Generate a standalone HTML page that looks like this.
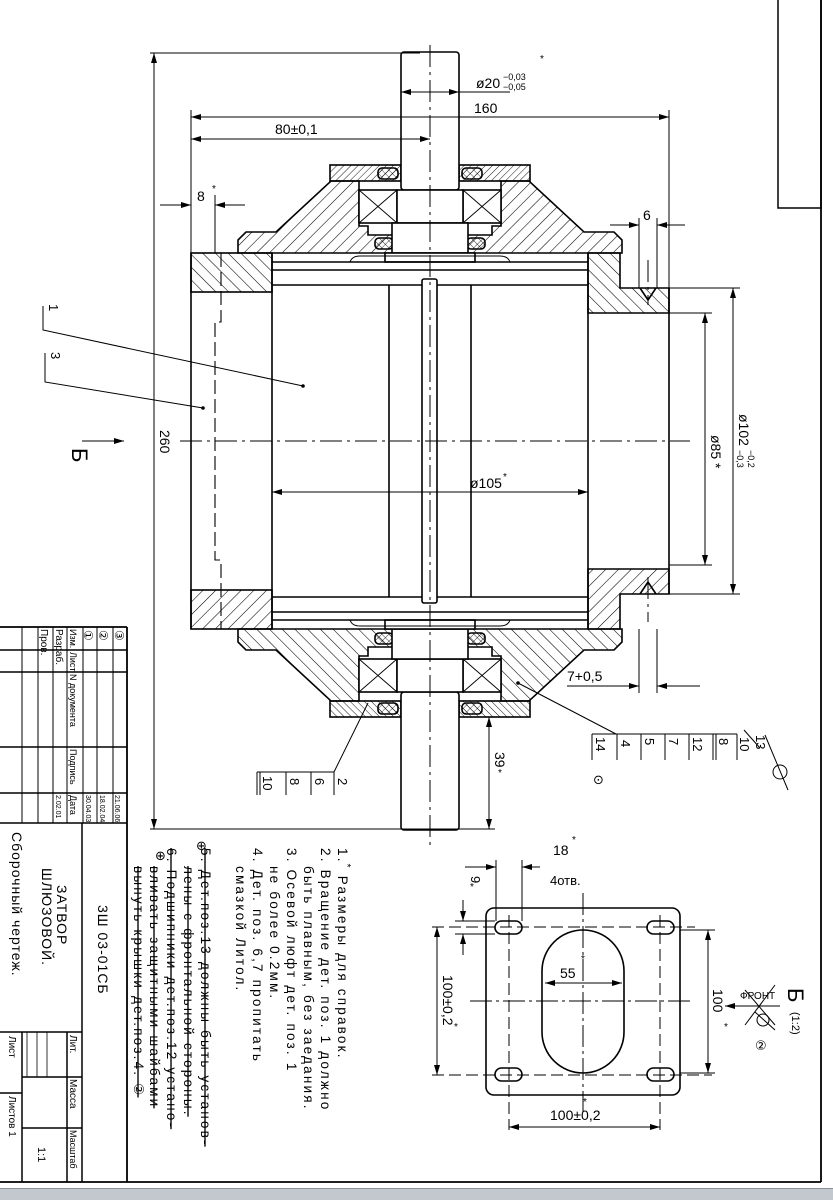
<!DOCTYPE html>
<html><head><meta charset="utf-8"><style>
html,body{margin:0;padding:0;background:#fff;}
svg{display:block;font-family:"Liberation Sans","DejaVu Sans",sans-serif;}
</style></head><body>
<svg width="833" height="1200" viewBox="0 0 833 1200" xmlns="http://www.w3.org/2000/svg">
<defs>
<pattern id="hb" width="9" height="9" patternUnits="userSpaceOnUse" patternTransform="rotate(-45)"><line x1="0" y1="0" x2="0" y2="9" stroke="#000" stroke-width="1.1"/></pattern>
<pattern id="hf" width="9" height="9" patternUnits="userSpaceOnUse" patternTransform="rotate(45)"><line x1="0" y1="0" x2="0" y2="9" stroke="#000" stroke-width="1.1"/></pattern>
<pattern id="hs" width="5" height="5" patternUnits="userSpaceOnUse" patternTransform="rotate(45)"><line x1="0" y1="0" x2="0" y2="5" stroke="#000" stroke-width="0.9"/></pattern>
<pattern id="hx" width="5" height="5" patternUnits="userSpaceOnUse" patternTransform="rotate(45)"><path d="M0 0V5M0 0H5" stroke="#000" stroke-width="0.8"/></pattern>
<marker id="a" viewBox="0 0 10 6" refX="10" refY="3" markerWidth="11" markerHeight="6" orient="auto-start-reverse" markerUnits="userSpaceOnUse"><path d="M0 0L10 3L0 6z" fill="#000"/></marker>
<g id="half" stroke="#000" stroke-width="1.6">
  <rect x="191" y="253" width="81" height="39" fill="url(#hb)"/>
  <path d="M588 253H620V288H669V313H588Z" fill="url(#hb)"/>
  <path d="M640 288L648 300L656 288" fill="none"/>
  <path d="M238 253V240L246 232H276L331 181H359V226H368V235H393V253Z" fill="url(#hf)"/>
  <path d="M622 253V240L614 232H584L529 181H501V226H492V235H467V253Z" fill="url(#hf)"/>
  <rect x="330" y="165" width="71" height="16" fill="url(#hs)"/>
  <rect x="459" y="165" width="71" height="16" fill="url(#hs)"/>
  <rect x="378" y="168" width="20" height="11" rx="4" fill="url(#hx)"/>
  <rect x="462" y="168" width="20" height="11" rx="4" fill="url(#hx)"/>
  <rect x="375" y="238" width="18" height="11" rx="4" fill="url(#hx)"/>
  <rect x="467" y="238" width="18" height="11" rx="4" fill="url(#hx)"/>
  <rect x="359" y="190" width="38" height="33" fill="#fff"/>
  <path d="M359 190L397 223M397 190L359 223" fill="none" stroke-width="0.9"/>
  <rect x="463" y="190" width="38" height="33" fill="#fff"/>
  <path d="M463 190L501 223M501 190L463 223" fill="none" stroke-width="0.9"/>
  <rect x="401" y="52" width="58" height="138" rx="3" fill="#fff"/>
  <rect x="397" y="190" width="66" height="33" fill="#fff"/>
  <rect x="392" y="223" width="76" height="30" fill="#fff"/>
  <rect x="385" y="253" width="90" height="9" fill="#fff"/>
  <path d="M350 262Q352 256 360 256H500Q508 256 510 262" fill="none" stroke-width="1"/>
  <line x1="272" y1="262" x2="588" y2="262"/>
  <line x1="272" y1="270" x2="588" y2="270"/>
  <line x1="272" y1="285" x2="588" y2="285"/>
</g>
</defs>
<rect width="833" height="1200" fill="#fff"/>
<use href="#half"/>
<use href="#half" transform="matrix(1,0,0,-1,0,882)"/>
<g stroke="#000" stroke-width="1.6" fill="none">
  <line x1="191" y1="253" x2="191" y2="629"/>
  <line x1="272" y1="253" x2="272" y2="629"/>
  <line x1="588" y1="253" x2="588" y2="629"/>
  <line x1="669" y1="288" x2="669" y2="594"/>
  <line x1="389" y1="285" x2="389" y2="597"/>
  <line x1="471" y1="285" x2="471" y2="597"/>
  <rect x="422" y="279" width="15" height="324" rx="2" fill="#fff"/>
  <path d="M221 253V322H215V560H221V629" stroke-dasharray="14 5" stroke-width="1.1"/>
</g>
<g stroke="#000" stroke-width="1" fill="none" stroke-dasharray="22 5 3 5">
  <line x1="430" y1="45" x2="430" y2="845"/>
  <line x1="180" y1="441" x2="690" y2="441"/>
  <line x1="648" y1="260" x2="648" y2="305"/>
  <line x1="648" y1="577" x2="648" y2="622"/>
</g>
<g stroke="#000" stroke-width="1" fill="none">
  <line x1="154" y1="53" x2="154" y2="829" marker-start="url(#a)" marker-end="url(#a)"/>
  <line x1="150" y1="53" x2="420" y2="53"/>
  <line x1="150" y1="829" x2="495" y2="829"/>
  <line x1="401" y1="92" x2="459" y2="92" marker-start="url(#a)" marker-end="url(#a)"/>
  <line x1="459" y1="92" x2="510" y2="92"/>
  <line x1="191" y1="117" x2="669" y2="117" marker-start="url(#a)" marker-end="url(#a)"/>
  <line x1="191" y1="110" x2="191" y2="253"/>
  <line x1="669" y1="110" x2="669" y2="288"/>
  <line x1="191" y1="139" x2="430" y2="139" marker-start="url(#a)" marker-end="url(#a)"/>
  <line x1="160" y1="205" x2="191" y2="205" marker-end="url(#a)"/>
  <line x1="245" y1="205" x2="215" y2="205" marker-end="url(#a)"/>
  <line x1="215" y1="195" x2="215" y2="253"/>
  <line x1="610" y1="225" x2="639" y2="225" marker-end="url(#a)"/>
  <line x1="685" y1="225" x2="657" y2="225" marker-end="url(#a)"/>
  <line x1="639" y1="218" x2="639" y2="288"/>
  <line x1="657" y1="218" x2="657" y2="288"/>
  <line x1="272" y1="492" x2="588" y2="492" marker-start="url(#a)" marker-end="url(#a)"/>
  <line x1="705" y1="313" x2="705" y2="565" marker-start="url(#a)" marker-end="url(#a)"/>
  <line x1="669" y1="313" x2="712" y2="313"/>
  <line x1="669" y1="565" x2="712" y2="565"/>
  <line x1="733" y1="288" x2="733" y2="594" marker-start="url(#a)" marker-end="url(#a)"/>
  <line x1="669" y1="288" x2="740" y2="288"/>
  <line x1="669" y1="594" x2="740" y2="594"/>
  <line x1="489" y1="717" x2="489" y2="829" marker-start="url(#a)" marker-end="url(#a)"/>
  <line x1="468" y1="717" x2="495" y2="717"/>
  <line x1="567" y1="686" x2="639" y2="686" marker-end="url(#a)"/>
  <line x1="700" y1="686" x2="657" y2="686" marker-end="url(#a)"/>
  <line x1="639" y1="629" x2="639" y2="693"/>
  <line x1="657" y1="629" x2="657" y2="693"/>
  <polyline points="43,306 43,330 303,386"/>
  <polyline points="45,353 45,382 203,408"/>
  <line x1="82" y1="441" x2="124" y2="441" marker-end="url(#a)"/>
  <line x1="368" y1="703" x2="334" y2="772"/>
  <line x1="257" y1="772" x2="334" y2="772"/>
  <line x1="257" y1="772" x2="257" y2="795"/><line x1="260" y1="772" x2="260" y2="795"/>
  <line x1="286" y1="772" x2="286" y2="795"/><line x1="311" y1="772" x2="311" y2="795"/><line x1="334" y1="772" x2="334" y2="795"/>
  <line x1="518" y1="683" x2="616" y2="734"/>
  <line x1="592" y1="734" x2="737" y2="734"/>
  <line x1="592" y1="734" x2="592" y2="760"/><line x1="617" y1="734" x2="617" y2="760"/>
  <line x1="641" y1="734" x2="641" y2="760"/><line x1="665" y1="734" x2="665" y2="760"/>
  <line x1="689" y1="734" x2="689" y2="760"/><line x1="713" y1="734" x2="713" y2="760"/>
  <line x1="716" y1="734" x2="716" y2="760"/><line x1="737" y1="734" x2="737" y2="760"/>
  <line x1="744" y1="730" x2="760" y2="748"/><line x1="765" y1="735" x2="788" y2="790"/>
  <circle cx="780" cy="772" r="7"/>
</g>
<g fill="#000">
  <circle cx="303" cy="386" r="1.8"/><circle cx="203" cy="408" r="1.8"/><circle cx="518" cy="683" r="1.8"/>
</g>
<g font-size="14" fill="#000">
  <text x="476" y="88">ø20</text>
  <text x="503" y="80" font-size="9">−0,03</text>
  <text x="503" y="90" font-size="9">−0,05</text>
  <text x="540" y="62" font-size="10">*</text>
  <text x="474" y="113">160</text>
  <text x="275" y="134">80±0,1</text>
  <text x="197" y="201">8</text><text x="212" y="192" font-size="10">*</text>
  <text x="643" y="220">6</text>
  <text x="470" y="488">ø105</text><text x="503" y="480" font-size="10">*</text>
  <text x="567" y="681">7+0,5</text>
  <text transform="translate(160,430) rotate(90)">260</text>
  <text transform="translate(711,435) rotate(90)">ø85 *</text>
  <text transform="translate(739,414) rotate(90)">ø102</text>
  <text transform="translate(748,450) rotate(90)" font-size="9">−0,2</text>
  <text transform="translate(737,450) rotate(90)" font-size="9">−0,3</text>
  <text transform="translate(495,752) rotate(90)">39</text><text x="498" y="776" font-size="10">*</text>
  <text transform="translate(49,304) rotate(90)" font-size="13">1</text>
  <text transform="translate(51,352) rotate(90)" font-size="13">3</text>
  <text transform="translate(72,448) rotate(90)" font-size="22">Б</text>
  <text transform="translate(263,776) rotate(90)" font-size="13">10</text>
  <text transform="translate(290,778) rotate(90)" font-size="13">8</text>
  <text transform="translate(315,778) rotate(90)" font-size="13">6</text>
  <text transform="translate(338,778) rotate(90)" font-size="13">2</text>
  <text transform="translate(596,737) rotate(90)" font-size="13">14</text>
  <text transform="translate(621,740) rotate(90)" font-size="13">4</text>
  <text transform="translate(645,738) rotate(90)" font-size="13">5</text>
  <text transform="translate(669,738) rotate(90)" font-size="13">7</text>
  <text transform="translate(693,737) rotate(90)" font-size="13">12</text>
  <text transform="translate(719,738) rotate(90)" font-size="13">8</text>
  <text transform="translate(740,737) rotate(90)" font-size="13">10</text>
  <text transform="translate(756,735) rotate(90)" font-size="13">13</text>
  <text x="593" y="784" font-size="13">⊙</text>
</g>
<g stroke="#000" stroke-width="1.6" fill="none">
  <rect x="486" y="908" width="194" height="187" rx="8"/>
  <rect x="495" y="921" width="27" height="13" rx="6.5"/>
  <rect x="647" y="921" width="27" height="13" rx="6.5"/>
  <rect x="495" y="1068" width="27" height="13" rx="6.5"/>
  <rect x="647" y="1068" width="27" height="13" rx="6.5"/>
  <rect x="542" y="930" width="82" height="143" rx="41"/>
</g>
<g stroke="#000" stroke-width="1" fill="none">
  <g stroke-dasharray="12 5">
    <line x1="509" y1="915" x2="509" y2="1130"/><line x1="660" y1="915" x2="660" y2="1130"/>
    <line x1="432" y1="927" x2="695" y2="927"/><line x1="432" y1="1075" x2="712" y2="1075"/>
  </g>
  <line x1="470" y1="1001" x2="693" y2="1001" stroke-dasharray="22 4 3 4"/>
  <line x1="583" y1="893" x2="583" y2="1112" stroke-dasharray="22 4 3 4"/>
  <line x1="437" y1="927" x2="437" y2="1075" marker-start="url(#a)" marker-end="url(#a)"/>
  <line x1="708" y1="930" x2="708" y2="1073" marker-start="url(#a)" marker-end="url(#a)"/>
  <line x1="680" y1="930" x2="715" y2="930"/><line x1="680" y1="1073" x2="715" y2="1073"/>
  <line x1="509" y1="1127" x2="660" y2="1127" marker-start="url(#a)" marker-end="url(#a)"/>
  <line x1="545" y1="983" x2="622" y2="983" marker-start="url(#a)" marker-end="url(#a)"/>
  <line x1="465" y1="867" x2="496" y2="867" marker-end="url(#a)"/>
  <line x1="540" y1="867" x2="522" y2="867" marker-end="url(#a)"/>
  <line x1="496" y1="860" x2="496" y2="921"/><line x1="522" y1="860" x2="522" y2="921"/>
  <line x1="463" y1="900" x2="463" y2="921" marker-end="url(#a)"/>
  <line x1="463" y1="955" x2="463" y2="934" marker-end="url(#a)"/>
  <line x1="455" y1="921" x2="495" y2="921"/><line x1="455" y1="934" x2="495" y2="934"/>
  <line x1="780" y1="1006" x2="725" y2="1006" marker-end="url(#a)"/>
  <line x1="745" y1="990" x2="775" y2="1025"/><line x1="775" y1="985" x2="745" y2="1025"/>
  <circle cx="763" cy="1020" r="6"/><line x1="755" y1="1012" x2="775" y2="1030"/>
</g>
<g font-size="14" fill="#000">
  <text x="553" y="855">18</text><text x="572" y="843" font-size="10">*</text>
  <text x="550" y="885" font-size="13">4отв.</text>
  <text transform="translate(471,876) rotate(90)" font-size="13">9</text><text x="470" y="890" font-size="10">*</text>
  <text x="560" y="978">55</text><text x="581" y="962" font-size="10">*</text>
  <text transform="translate(443,975) rotate(90)">100±0,2</text><text x="454" y="1030" font-size="10">*</text>
  <text x="550" y="1120">100±0,2</text><text x="583" y="1105" font-size="10">*</text>
  <text transform="translate(713,989) rotate(90)">100</text><text x="724" y="1030" font-size="10">*</text>
  <text x="740" y="999" font-size="10">ФРОНТ</text>
  <text transform="translate(788,988) rotate(90)" font-size="22">Б</text>
  <text transform="translate(792,1012) rotate(90)" font-size="11">(1:2)</text>
  <text x="755" y="1050" font-size="13">②</text>
</g>
<g font-size="13.5" fill="#000" letter-spacing="2.2">
  <text transform="translate(338,848) rotate(90)">1.<tspan dy="-6" font-size="10">*</tspan><tspan dy="6"> Размеры для справок.</tspan></text>
  <text transform="translate(321,848) rotate(90)">2. Вращение дет. поз. 1 должно</text>
  <text transform="translate(304,866) rotate(90)">быть плавным, без заедания.</text>
  <text transform="translate(287,848) rotate(90)">3. Осевой люфт дет. поз. 1</text>
  <text transform="translate(270,866) rotate(90)">не более 0.2мм.</text>
  <text transform="translate(253,848) rotate(90)">4. Дет. поз. 6,7 пропитать</text>
  <text transform="translate(236,866) rotate(90)">смазкой Литол.</text>
  <g text-decoration="line-through">
  <text transform="translate(201,848) rotate(90)">5. Дет.поз.13 должны быть установ-</text>
  <text transform="translate(184,866) rotate(90)">лены с фронтальной стороны.</text>
  <text transform="translate(167,848) rotate(90)">6. Подшипники дет.поз.12 устано-</text>
  <text transform="translate(150,866) rotate(90)">вливать защитными шайбами</text>
  <text transform="translate(134,866) rotate(90)">вынуть крышки дет.поз.4. ②</text>
  </g>
  <text x="196" y="850" font-size="13">⊕</text>
  <text x="155" y="860" font-size="13">⊕</text>
</g>
<g stroke="#000" fill="none">
  <line x1="821" y1="0" x2="821" y2="1182" stroke-width="1.8"/>
  <line x1="0" y1="1182" x2="821" y2="1182" stroke-width="1.8"/>
  <line x1="127" y1="627" x2="127" y2="1182" stroke-width="1.8"/>
  <rect x="778" y="-2" width="43" height="210" stroke-width="1.5"/>
  <line x1="0" y1="627" x2="127" y2="627" stroke-width="1.8"/>
  <g stroke-width="1">
    <line x1="113" y1="627" x2="113" y2="823"/><line x1="97" y1="627" x2="97" y2="823"/>
    <line x1="83" y1="627" x2="83" y2="823"/><line x1="67" y1="627" x2="67" y2="823"/>
    <line x1="53" y1="627" x2="53" y2="823"/><line x1="38" y1="627" x2="38" y2="823"/>
    <line x1="22" y1="627" x2="22" y2="823"/>
  </g>
  <g stroke-width="1.5">
    <line x1="0" y1="650" x2="127" y2="650"/><line x1="0" y1="672" x2="127" y2="672"/>
    <line x1="0" y1="747" x2="127" y2="747"/><line x1="0" y1="793" x2="127" y2="793"/>
    <line x1="0" y1="823" x2="127" y2="823"/>
    <line x1="82" y1="823" x2="82" y2="1182"/>
    <line x1="0" y1="1032" x2="82" y2="1032"/>
    <line x1="67" y1="1032" x2="67" y2="1182"/><line x1="22" y1="1032" x2="22" y2="1182"/>
    <line x1="22" y1="1077" x2="82" y2="1077"/><line x1="22" y1="1128" x2="82" y2="1128"/>
    <line x1="0" y1="1093" x2="22" y2="1093"/>
  </g>
  <g stroke-width="0.8"><line x1="27" y1="1032" x2="27" y2="1077"/><line x1="37" y1="1032" x2="37" y2="1077"/><line x1="47" y1="1032" x2="47" y2="1077"/></g>
</g>
<g fill="#000" font-size="9">
  <text transform="translate(115,630) rotate(90)" font-size="12">③</text>
  <text transform="translate(99,630) rotate(90)" font-size="12">②</text>
  <text transform="translate(84,630) rotate(90)" font-size="12">①</text>
  <text transform="translate(70,629) rotate(90)">Изм.</text>
  <text transform="translate(70,652) rotate(90)">Лист</text>
  <text transform="translate(70,674) rotate(90)">N документа</text>
  <text transform="translate(70,749) rotate(90)">Подпись</text>
  <text transform="translate(70,795) rotate(90)">Дата</text>
  <text transform="translate(56,629) rotate(90)" font-size="10">Разраб.</text>
  <text transform="translate(41,629) rotate(90)" font-size="10">Пров.</text>
  <text transform="translate(115,795) rotate(90)" font-size="7">21.06.06</text>
  <text transform="translate(100,795) rotate(90)" font-size="7">18.02.04</text>
  <text transform="translate(86,795) rotate(90)" font-size="7">30.04.03</text>
  <text transform="translate(56,795) rotate(90)" font-size="7">2.02.01</text>
  <text transform="translate(98,905) rotate(90)" font-size="14" letter-spacing="1">3Ш 03-01СБ</text>
  <text transform="translate(57,885) rotate(90)" font-size="14" letter-spacing="1">ЗАТВОР</text>
  <text transform="translate(42,868) rotate(90)" font-size="14" letter-spacing="1">ШЛЮЗОВОЙ.</text>
  <text transform="translate(12,832) rotate(90)" font-size="14" letter-spacing="1">Сборочный чертеж.</text>
  <text transform="translate(70,1035) rotate(90)" font-size="10">Лит.</text>
  <text transform="translate(70,1079) rotate(90)" font-size="10">Масса</text>
  <text transform="translate(70,1130) rotate(90)" font-size="9">Масштаб</text>
  <text transform="translate(38,1147) rotate(90)" font-size="11">1:1</text>
  <text transform="translate(9,1036) rotate(90)" font-size="10">Лист</text>
  <text transform="translate(9,1096) rotate(90)" font-size="10">Листов 1</text>
</g>
<rect x="0" y="1188" width="833" height="12" fill="#c3c7ce"/>
<line x1="0" y1="1188.5" x2="833" y2="1188.5" stroke="#8a8f98" stroke-width="1"/>
</svg>
</body></html>
